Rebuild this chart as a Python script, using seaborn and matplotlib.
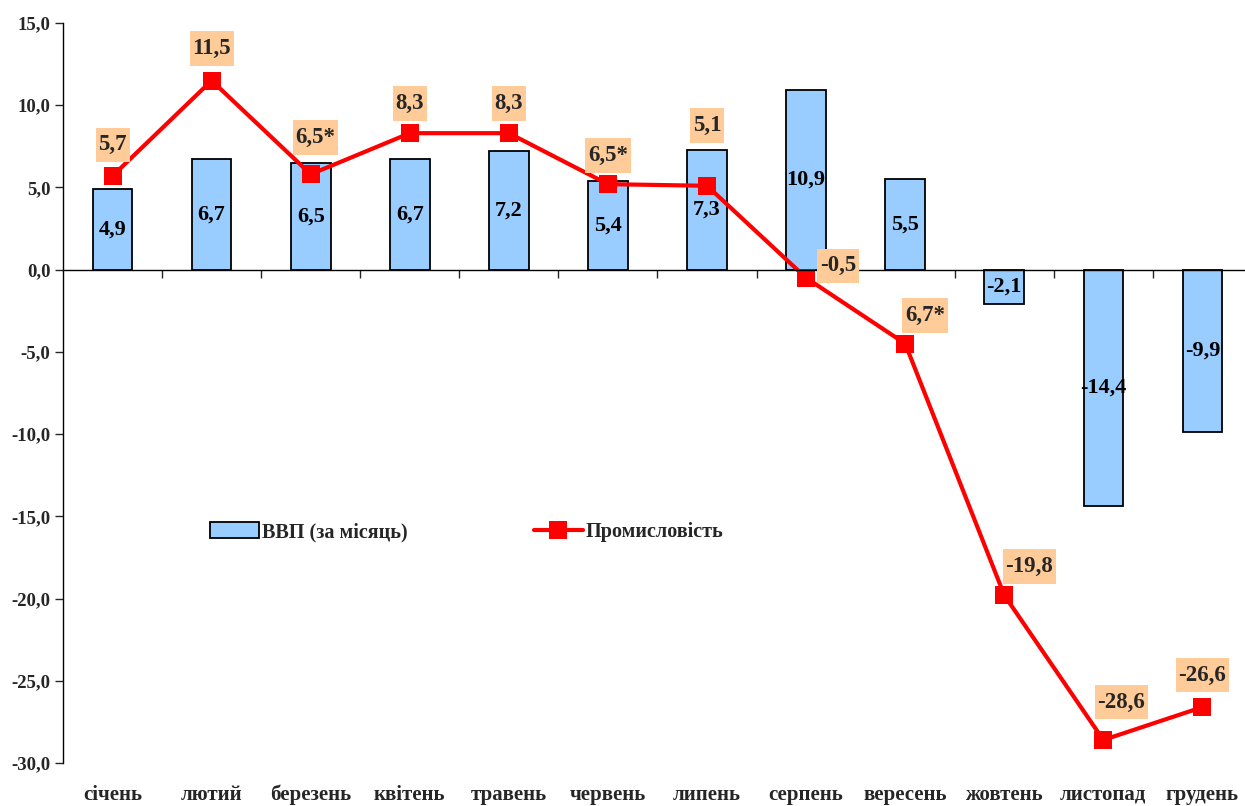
import numpy as np
import pandas as pd
import seaborn as sns
import matplotlib.pyplot as plt
from matplotlib.path import Path

months = ['січень', 'лютий', 'березень', 'квітень', 'травень', 'червень',
          'липень', 'серпень', 'вересень', 'жовтень', 'листопад', 'грудень']
gdp = [4.9, 6.7, 6.5, 6.7, 7.2, 5.4, 7.3, 10.9, 5.5, -2.1, -14.4, -9.9]
industry = [5.7, 11.5, 5.8, 8.3, 8.3, 5.2, 5.1, -0.5, -4.5, -19.8, -28.6, -26.6]
industry_labels = ['5,7', '11,5', '6,5*', '8,3', '8,3', '6,5*', '5,1', '-0,5',
                   '6,7*', '-19,8', '-28,6', '-26,6']
yticks = [15, 10, 5, 0, -5, -10, -15, -20, -25, -30]

# label offsets from the markers, in pixels (dx, dy up)
label_offsets = [(0, 31), (0, 32), (5, 37), (0, 30), (0, 30), (0, 29),
                 (0, 60), (32, 12), (20, 28), (25, 29), (18, 38), (0, 32)]


def peach_box(x0, y0, width, height, mutation_size):
    # narrow side padding, tall top/bottom padding like the original labels
    px = 0.12 * mutation_size
    py = 0.3 * mutation_size
    verts = [(x0 - px, y0 - py), (x0 + width + px, y0 - py),
             (x0 + width + px, y0 + height + py), (x0 - px, y0 + height + py),
             (x0 - px, y0 - py)]
    return Path(verts, closed=True)


sns.set_theme(style='white')
plt.rcParams['font.family'] = ['Liberation Serif', 'DejaVu Serif']
plt.rcParams['font.weight'] = 'bold'

fig = plt.figure(figsize=(12.45, 8.06), dpi=100)
ax = fig.add_axes([63 / 1245, 43 / 806, 1189 / 1245, 740 / 806])

df = pd.DataFrame({'month': months, 'gdp': gdp, 'ind': industry, 'pos': np.arange(12)})

sns.barplot(data=df, x='month', y='gdp', color='#99CCFF', edgecolor='black',
            linewidth=1.3, width=0.4, saturation=1, label='ВВП (за місяць)', ax=ax)
sns.lineplot(data=df, x='pos', y='ind', color='#FF0000', linewidth=3,
             marker='s', markersize=12.5, markeredgewidth=0,
             label='Промисловість', ax=ax)

# bar value labels, centred in each bar
for i, v in enumerate(gdp):
    ax.text(i, v / 2, f'{v:.1f}'.replace('.', ','), ha='center', va='center',
            fontsize=16, fontweight='bold', color='black', zorder=5)

# industry labels with peach boxes
for i, (v, lab) in enumerate(zip(industry, industry_labels)):
    dx, dy = label_offsets[i]
    ax.annotate(lab, (i, v), xytext=(dx * 0.72, dy * 0.72), textcoords='offset points',
                ha='center', va='center', fontsize=16.5, fontweight='bold',
                bbox=dict(boxstyle=peach_box, fc='#FFCC99', ec='none'),
                zorder=6)

ax.set_ylim(-30, 15)
ax.set_xlim(-0.5, 11.5)
ax.set_yticks(yticks)
ax.set_yticklabels([f'{t:.1f}'.replace('.', ',') for t in yticks],
                   fontsize=13.5, fontweight='bold')
ax.tick_params(axis='y', direction='out', length=6, width=1, left=True, pad=3)

# x-axis line sits at zero, ticks between categories
ax.spines['top'].set_visible(False)
ax.spines['right'].set_visible(False)
ax.spines['bottom'].set_position(('data', 0))
ax.spines['left'].set_linewidth(1)
ax.spines['bottom'].set_linewidth(1)
ax.spines['left'].set_color('black')
ax.spines['bottom'].set_color('black')
ax.set_xticks(np.arange(12) + 0.5)
ax.set_xticklabels([])
ax.tick_params(axis='x', direction='out', length=6, width=1, bottom=True)
ax.set_xlabel('')
ax.set_ylabel('')

for i, m in enumerate(months):
    ax.text(i, -0.043, m, transform=ax.get_xaxis_transform(), ha='center',
            va='center', fontsize=15, fontweight='bold', clip_on=False)

handles, labels = ax.get_legend_handles_labels()
order = [labels.index('ВВП (за місяць)'), labels.index('Промисловість')]
ax.legend([handles[k] for k in order], [labels[k] for k in order],
          loc='center left', bbox_to_anchor=(0.124, 0.312), ncol=2, frameon=False,
          columnspacing=6.3, handlelength=2.4, handleheight=0.85, handletextpad=0.15,
          borderaxespad=0, borderpad=0,
          prop={'weight': 'bold', 'size': 14.5})

fig.savefig('out.png', dpi=100)
